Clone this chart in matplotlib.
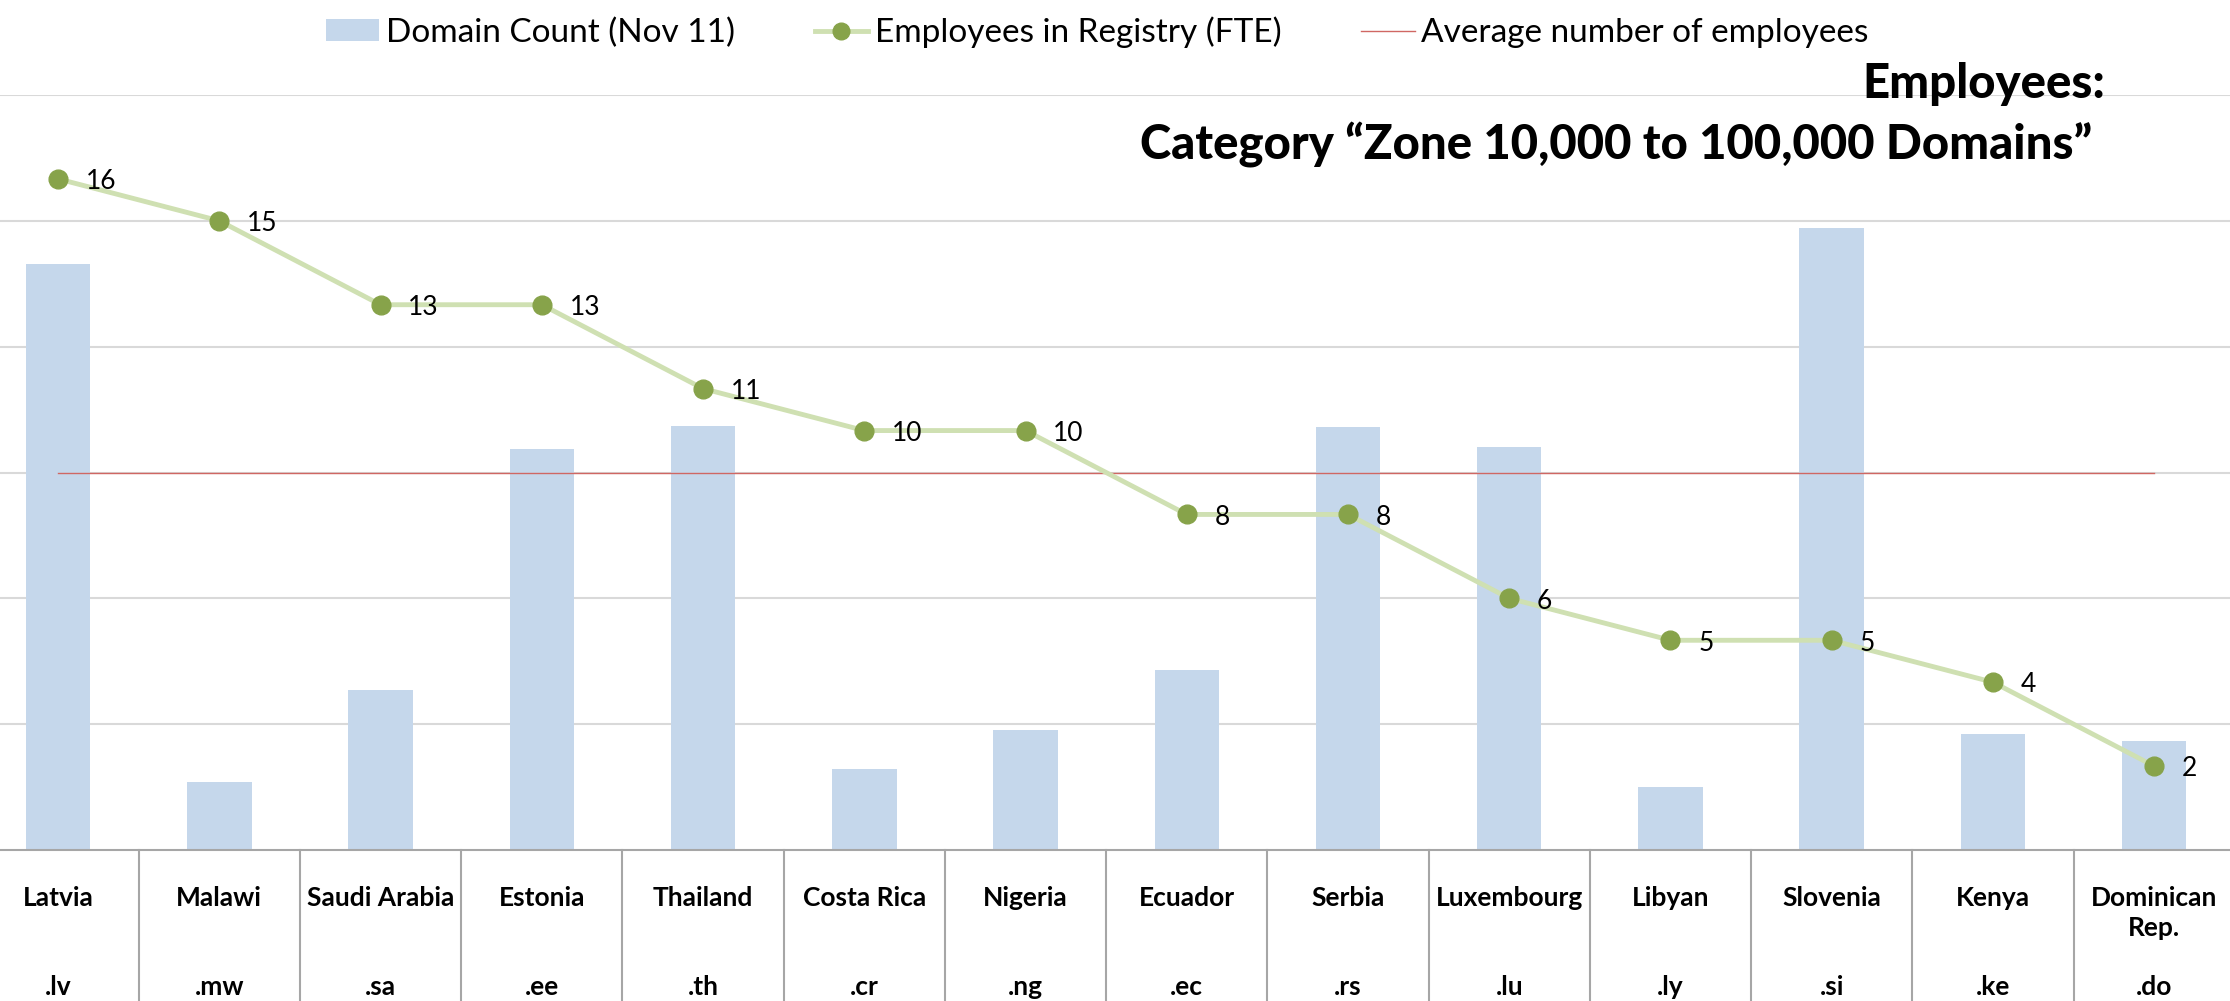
import matplotlib
matplotlib.use('Agg')
import matplotlib.pyplot as plt
from matplotlib.transforms import blended_transform_factory
from matplotlib.lines import Line2D
from matplotlib.patches import Patch

plt.rcParams['font.family'] = ['Lato', 'DejaVu Sans']

# data
countries = ['Latvia', 'Malawi', 'Saudi Arabia', 'Estonia', 'Thailand', 'Costa Rica', 'Nigeria',
             'Ecuador', 'Serbia', 'Luxembourg', 'Libyan', 'Slovenia', 'Kenya', 'Dominican\nRep.']
tlds = ['.lv', '.mw', '.sa', '.ee', '.th', '.cr', '.ng', '.ec', '.rs', '.lu', '.ly', '.si', '.ke', '.do']
domains = [93100, 10800, 25500, 63700, 67400, 12900, 19100,
           28600, 67200, 64100, 10000, 98800, 18400, 17400]
employees = [16, 15, 13, 13, 11, 10, 10, 8, 8, 6, 5, 5, 4, 2]

bar_color = '#c5d7eb'
line_color = '#cfe0b2'
marker_color = '#87a34a'
avg_color = '#d06763'
grid_color = '#d9d9d9'

fig = plt.figure(figsize=(22.30, 10.01), dpi=100)
ax = fig.add_axes([0, 1 - 850 / 1001, 1, 755 / 1001])
x = list(range(len(countries)))

# bars (primary axis)
ax.bar(x, domains, width=0.40, color=bar_color, zorder=2)
ax.set_ylim(0, 120000)
ax.set_xlim(-0.36, 13.47)
for g in range(20000, 120001, 20000):
    ax.axhline(g, color=grid_color, lw=1.5, zorder=0)
ax.set_yticks([])
ax.set_xticks([])
for s in ['top', 'left', 'right']:
    ax.spines[s].set_visible(False)
ax.spines['bottom'].set_color('#a6a6a6')
ax.spines['bottom'].set_linewidth(1.5)

# employees line (secondary axis)
ax2 = ax.twinx()
ax2.set_ylim(0, 18)
ax2.set_yticks([])
for s in ['top', 'left', 'right', 'bottom']:
    ax2.spines[s].set_visible(False)
avg = sum(employees) / len(employees)
ax2.plot([x[0], x[-1]], [avg, avg], color=avg_color, lw=1.0, zorder=2)
ax2.plot(x, employees, color=line_color, lw=3.5, marker='o', markersize=13.5,
         markerfacecolor=marker_color, markeredgecolor=marker_color, zorder=3)
for xi, v in zip(x, employees):
    ax2.annotate(str(v), (xi, v), xytext=(20, -2), textcoords='offset points',
                 ha='left', va='center', fontsize=19)

# category table below axis
tr = blended_transform_factory(ax.transData, fig.transFigure)
for i in range(len(countries) - 1):
    ax.plot([i + 0.5, i + 0.5], [0, 1 - 850 / 1001], transform=tr, color='#a6a6a6',
            lw=1.5, clip_on=False)
for xi, name, tld in zip(x, countries, tlds):
    ax.text(xi, 1 - 886 / 1001, name, transform=tr, ha='center', va='top',
            fontsize=19, fontweight='bold', linespacing=1.3)
    ax.text(xi, 1 - 995 / 1001, tld, transform=tr, ha='center', va='baseline',
            fontsize=19, fontweight='bold')

# title
fig.text(2105 / 2230, 1 - 98 / 1001, 'Employees:', ha='right', va='baseline',
         fontsize=34, fontweight='black')
fig.text(2092 / 2230, 1 - 160 / 1001, 'Category \u201cZone 10,000 to 100,000 Domains\u201d',
         ha='right', va='baseline', fontsize=34, fontweight='black')

# legend
handles = [Patch(facecolor=bar_color, edgecolor='none'),
           Line2D([], [], color=line_color, lw=3.5, marker='o', markersize=12,
                  markerfacecolor=marker_color, markeredgecolor=marker_color),
           Line2D([], [], color=avg_color, lw=1.0)]
labels = ['Domain Count (Nov 11)', 'Employees in Registry (FTE)', 'Average number of employees']
fig.legend(handles, labels, loc='center', bbox_to_anchor=(0.492, 1 - 32 / 1001), ncol=3,
           frameon=False, fontsize=24, handlelength=1.6, handletextpad=0.2,
           columnspacing=2.4, borderpad=0, handleheight=0.6)

fig.savefig('out.png', dpi=100)
